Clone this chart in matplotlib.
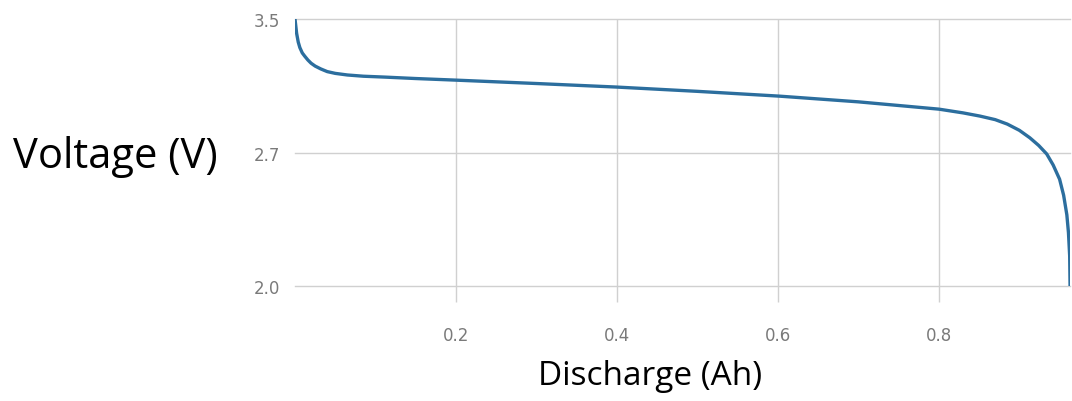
import matplotlib
matplotlib.use("Agg")
import matplotlib.pyplot as plt

# discharge curve
discharge_ah = [0.0, 0.001, 0.002, 0.004, 0.006, 0.009, 0.012, 0.016, 0.020, 0.025,
                0.032, 0.040, 0.050, 0.065, 0.085, 0.112, 0.150, 0.200, 0.300,
                0.400, 0.500, 0.602, 0.700, 0.800, 0.830, 0.851, 0.870, 0.885,
                0.900, 0.913, 0.924, 0.934, 0.942, 0.950, 0.955, 0.959, 0.961,
                0.9625, 0.963]
voltage_v = [3.50, 3.46, 3.42, 3.371, 3.34, 3.31, 3.292, 3.27, 3.252, 3.236,
             3.220, 3.205, 3.195, 3.186, 3.179, 3.174, 3.166, 3.157, 3.138,
             3.118, 3.094, 3.067, 3.035, 2.994, 2.973, 2.955, 2.935, 2.910,
             2.875, 2.833, 2.790, 2.742, 2.680, 2.600, 2.510, 2.400, 2.300,
             2.170, 2.0]

y_ticks = [2.0, 2.75, 3.5]
y_tick_labels = ["2.0", "2.7", "3.5"]
x_ticks = [0.2, 0.4, 0.6, 0.8]
x_tick_labels = ["0.2", "0.4", "0.6", "0.8"]

fig = plt.figure(figsize=(10.72, 4.02), dpi=100)
ax = fig.add_axes([0.2752, 0.286, 0.723, 0.664])

ax.plot(discharge_ah, voltage_v, color="#2c6e9e", linewidth=2.4,
        solid_joinstyle="round", zorder=3)

ax.set_xlim(0, 0.963)
ax.set_ylim(2.0, 3.5)
ax.set_xticks(x_ticks)
ax.set_xticklabels(x_tick_labels)
ax.set_yticks(y_ticks)
ax.set_yticklabels(y_tick_labels)

for s in ax.spines.values():
    s.set_visible(False)

ax.grid(True, color="#d0d0d0", linewidth=1.0)
# keep the edge gridlines (2.0 and 3.5) at full width
for gl in ax.get_ygridlines():
    gl.set_clip_on(False)
ax.tick_params(axis="x", length=11.5, width=1.0, color="#d0d0d0", pad=17,
               labelsize=12, labelcolor="#7a7a7a")
ax.tick_params(axis="y", length=0, pad=11, labelsize=12, labelcolor="#7a7a7a")

fig.text(0.012, 0.582, "Voltage (V)", family="Open Sans", fontsize=30,
         ha="left", va="baseline", color="black")
fig.text(0.502, 0.042, "Discharge (Ah)", family="Open Sans", fontsize=24,
         ha="left", va="baseline", color="black")

fig.savefig("out.png", dpi=100)
